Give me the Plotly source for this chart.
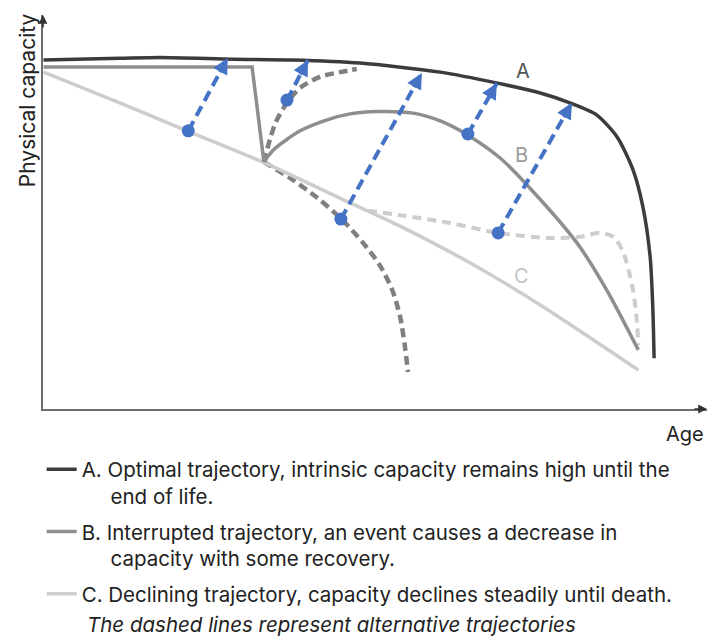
import math
import plotly.graph_objects as go

# ---- data (age / capacity in arbitrary 0-100 units) ----
A_x = [0, 11.6, 17.7, 28.8, 37.9, 48.1, 60.3, 69.0, 75.5, 80.0, 84.1, 87.2, 89.6, 91.1, 92.2, 92.6, 92.8]
A_y = [88.6, 89.0, 89.2, 88.8, 88.6, 87.8, 85.5, 82.7, 80.2, 77.7, 74.6, 69.0, 60.7, 51.3, 38.6, 25.9, 12.9]

B_x = [0, 31.7, 33.5, 34.9, 39.0, 43.1, 46.6, 50.7, 56.2, 60.3, 64.5, 69.4, 73.9, 81.1, 85.6, 90.4]
B_y = [86.8, 86.8, 62.7, 65.7, 70.6, 73.4, 74.9, 75.5, 75.1, 73.1, 69.5, 63.7, 56.1, 42.1, 30.2, 15.0]
B_break = 2  # index of the low point after the event

C_x = [0, 11.6, 21.8, 33.7, 46.6, 54.2, 64.8, 75.5, 90.4]
C_y = [85.5, 77.7, 70.6, 62.4, 52.3, 46.4, 37.1, 26.4, 9.9]

# dashed alternative trajectories
DU_x = [33.5, 34.4, 35.3, 37.0, 39.0, 42.0, 45.1, 47.6]
DU_y = [62.7, 68.3, 72.8, 77.7, 81.5, 84.3, 85.5, 86.3]
DD_x = [33.5, 37.5, 41.6, 45.1, 48.6, 51.1, 53.0, 54.2, 54.9, 55.4]
DD_y = [62.7, 58.6, 53.6, 48.5, 42.1, 36.5, 30.2, 23.4, 16.2, 9.4]
LD_x = [49.3, 54.2, 61.8, 69.1, 77.0, 81.5, 84.6, 86.6, 88.1, 89.6, 90.2, 90.4]
LD_y = [50.3, 49.2, 47.2, 44.7, 43.4, 43.7, 44.7, 43.7, 39.8, 30.2, 21.8, 16.2]

# intervention arrows (start -> end)
AR_x0 = [22.0, 37.0, 45.2, 64.5, 69.1]
AR_y0 = [70.6, 78.4, 48.2, 69.8, 44.7]
AR_x1 = [28.0, 40.2, 57.5, 68.9, 80.3]
AR_y1 = [89.1, 88.6, 85.3, 82.7, 77.7]

# curve labels
LBL_text = ["A", "B", "C"]
LBL_x = [72.9, 72.7, 72.7]
LBL_y = [85.8, 64.5, 33.8]
LBL_color = ["#555555", "#9a9a9a", "#c4c4c4"]

LEG_A = "A. Optimal trajectory, intrinsic capacity remains high until the<br>\u00a0\u00a0\u00a0\u00a0\u00a0end of life."
LEG_B = "B. Interrupted trajectory, an event causes a decrease in<br>\u00a0\u00a0\u00a0\u00a0\u00a0capacity with some recovery."
LEG_C = "C. Declining trajectory, capacity declines steadily until death."
NOTE = "<i>The dashed lines represent alternative trajectories</i>"

COL_A = "#3c3c3c"
COL_B = "#8e8e8e"
COL_C = "#cdcdcd"
COL_DD = "#808080"
COL_BLUE = "#4472C4"
FONT = "Inter"

# layout geometry
W, H = 709, 636
M = dict(l=43, r=2, t=15, b=227)
X_RANGE = [-0.076, 100.84]
Y_RANGE = [0, 100]
PX_PER_X = (W - M["l"] - M["r"]) / (X_RANGE[1] - X_RANGE[0])
PX_PER_Y = (H - M["t"] - M["b"]) / (Y_RANGE[1] - Y_RANGE[0])

fig = go.Figure()

# dashed alternatives (behind)
fig.add_trace(go.Scatter(x=LD_x, y=LD_y, mode="lines", line=dict(color=COL_C, width=4, dash="9px,6px", shape="spline", smoothing=0.8),
                         showlegend=False, hoverinfo="skip"))
fig.add_trace(go.Scatter(x=DU_x, y=DU_y, mode="lines", line=dict(color=COL_DD, width=4.5, dash="9px,5px", shape="spline", smoothing=0.8),
                         showlegend=False, hoverinfo="skip"))
fig.add_trace(go.Scatter(x=DD_x, y=DD_y, mode="lines", line=dict(color=COL_DD, width=4.5, dash="9px,5px", shape="spline", smoothing=0.8),
                         showlegend=False, hoverinfo="skip"))

# main trajectories
fig.add_trace(go.Scatter(x=C_x, y=C_y, mode="lines", name=LEG_C, legendgroup="c", legendrank=3,
                         line=dict(color=COL_C, width=3.5, shape="spline", smoothing=0.6), hoverinfo="skip"))
fig.add_trace(go.Scatter(x=B_x[:B_break + 1], y=B_y[:B_break + 1], mode="lines", name=LEG_B, legendgroup="b", legendrank=2,
                         line=dict(color=COL_B, width=3.5), hoverinfo="skip"))
fig.add_trace(go.Scatter(x=B_x[B_break:], y=B_y[B_break:], mode="lines", legendgroup="b", showlegend=False,
                         line=dict(color=COL_B, width=3.5, shape="spline", smoothing=0.8), hoverinfo="skip"))
fig.add_trace(go.Scatter(x=A_x, y=A_y, mode="lines", name=LEG_A, legendgroup="a", legendrank=1,
                         line=dict(color=COL_A, width=3.5, shape="spline", smoothing=0.7), hoverinfo="skip"))

# intervention arrows: dashed shafts
for x0, y0, x1, y1 in zip(AR_x0, AR_y0, AR_x1, AR_y1):
    fig.add_trace(go.Scatter(
        x=[x0, x1], y=[y0, y1], mode="lines", showlegend=False, hoverinfo="skip",
        line=dict(color=COL_BLUE, width=4, dash="11px,6px"),
    ))
# start dots
fig.add_trace(go.Scatter(x=AR_x0, y=AR_y0, mode="markers", showlegend=False, hoverinfo="skip",
                         marker=dict(symbol="circle", size=13, color=COL_BLUE, line=dict(width=0))))

annotations = []
# arrowheads at the end of each intervention arrow (short stub along the same direction)
STUB = 18  # px
for x0, y0, x1, y1 in zip(AR_x0, AR_y0, AR_x1, AR_y1):
    dx = (x1 - x0) * PX_PER_X
    dy = -(y1 - y0) * PX_PER_Y
    n = math.hypot(dx, dy)
    annotations.append(dict(x=x1, y=y1, xref="x", yref="y",
                            ax=-dx / n * STUB, ay=-dy / n * STUB,
                            text="", showarrow=True, arrowhead=2, arrowsize=0.9, arrowwidth=3.5,
                            arrowcolor=COL_BLUE, standoff=0))

for t, x, y, c in zip(LBL_text, LBL_x, LBL_y, LBL_color):
    annotations.append(dict(x=x, y=y, xref="x", yref="y", text=t, showarrow=False,
                            font=dict(family=FONT, size=20, color=c)))

# axis arrowheads
annotations.append(dict(x=1, y=0, xref="paper", yref="paper", ax=-14, ay=0, text="", showarrow=True,
                        arrowhead=2, arrowsize=1.1, arrowwidth=1.6, arrowcolor="#333333"))
annotations.append(dict(x=0, y=1, xref="paper", yref="paper", ax=0, ay=14, text="", showarrow=True,
                        arrowhead=2, arrowsize=1.1, arrowwidth=1.6, arrowcolor="#333333"))

# axis titles
annotations.append(dict(x=-0.024, y=0.784, xref="paper", yref="paper", text="Physical capacity", textangle=-90,
                        showarrow=False, xanchor="center", yanchor="middle",
                        font=dict(family=FONT, size=21, color="#222222")))
annotations.append(dict(x=0.967, y=-0.0635, xref="paper", yref="paper", text="Age", showarrow=False,
                        xanchor="center", yanchor="middle", font=dict(family=FONT, size=20, color="#222222")))
annotations.append(dict(x=0.063, y=-0.5457, xref="paper", yref="paper", text=NOTE, showarrow=False,
                        xanchor="left", yanchor="middle", font=dict(family=FONT, size=20.5, color="#222222")))

fig.update_layout(
    width=W, height=H,
    margin=M,
    paper_bgcolor="white", plot_bgcolor="white",
    xaxis=dict(range=X_RANGE, showgrid=False, zeroline=False, showticklabels=False, ticks="",
               showline=True, linecolor="#6e6e6e", linewidth=1.6, fixedrange=True),
    yaxis=dict(range=Y_RANGE, showgrid=False, zeroline=False, showticklabels=False, ticks="",
               showline=True, linecolor="#6e6e6e", linewidth=1.6, fixedrange=True),
    showlegend=True,
    legend=dict(x=-0.002, xanchor="left", y=-0.1025, yanchor="top", traceorder="grouped", tracegroupgap=6,
                valign="top", font=dict(family=FONT, size=20.5, color="#222222"),
                bgcolor="rgba(0,0,0,0)", borderwidth=0, itemclick=False, itemdoubleclick=False),
    annotations=annotations,
)

fig.write_html("out.html", config={"displayModeBar": False},
               post_script="document.body.style.margin='0px';document.body.style.overflow='hidden';")
